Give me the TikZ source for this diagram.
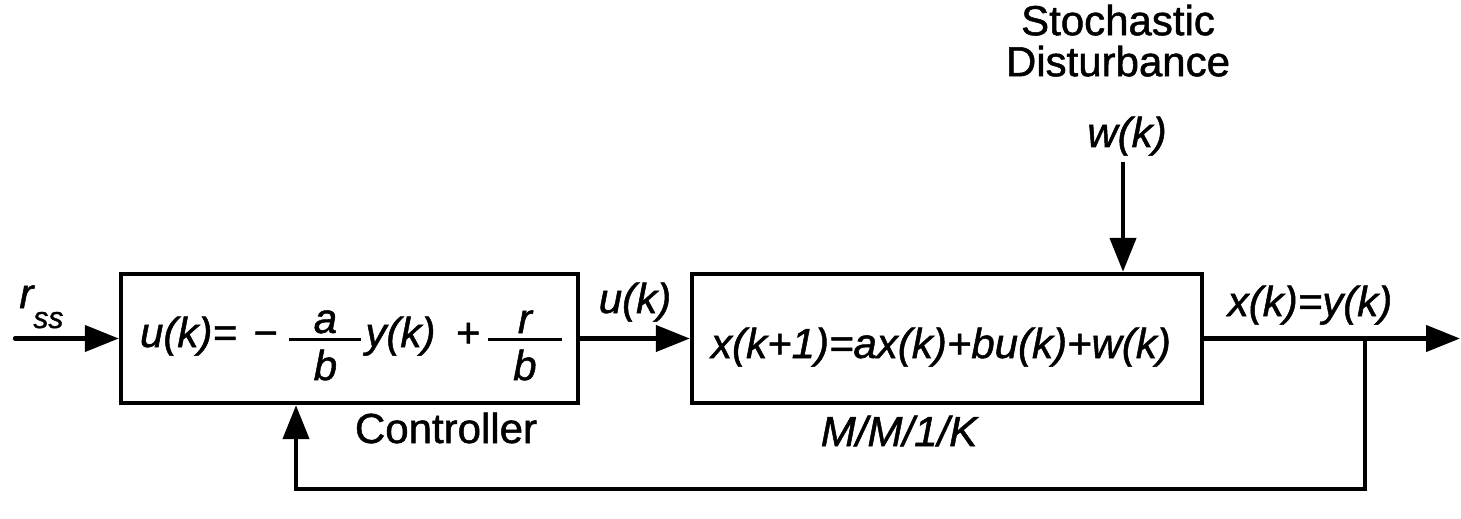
\documentclass[tikz,border=0pt]{standalone}
\usepackage{fontspec}
\setmainfont{Liberation Sans}[FakeBold=1.2]
\usetikzlibrary{arrows.meta}
\newcommand\fracbox[3][36pt]{\leavevmode\rlap{\makebox[#1]{\raisebox{7pt}{#2}}}\rlap{\makebox[#1]{\raisebox{-16.5pt}{#3}}}\rule[3pt]{#1}{1.5pt}}
\begin{document}
\begin{tikzpicture}[x=0.5pt,y=-0.5pt,
  blk/.style={draw,line width=2.2pt,inner sep=0pt,minimum height=64.5pt},
  lbl/.style={font=\fontsize{21}{20.5}\selectfont,inner sep=0pt,anchor=base},
  ilbl/.style={lbl,font=\fontsize{21}{20.5}\selectfont\itshape},
  conn/.style={line width=2.2pt,-{Triangle[length=17pt,width=13pt]}}]
\useasboundingbox (0,0) rectangle (1461,519);

% blocks
\node[blk,minimum width=228.5pt] (ctrl) at (349.5,338.5) {};
\node[blk,minimum width=255pt] (plant) at (947,338.5) {};

% block contents
\node[ilbl] (ctrlf) at (351,347) {u(k)=\hspace{8pt}−\hspace{6pt}\fracbox{a}{b}\hspace{2pt}y(k)\hspace{10pt}+\hspace{4pt}\fracbox[37pt]{r}{b}};
\node[ilbl] (plantf) at (941,358) {x(k+1)=ax(k)+bu(k)+w(k)};

% labels
\node[ilbl,anchor=base west] (rss) at (19,308) {r\raisebox{-10pt}{\fontsize{15}{17}\selectfont ss}};
\node[ilbl] (uk) at (635,313) {u(k)};
\node[ilbl] (xy) at (1310,316) {x(k)=y(k)};
\node[ilbl] (wk) at (1127,147) {w(k)};
\node[lbl,align=center,anchor=south] (dist) at (1118,77) {Stochastic\\Disturbance};
\node[lbl] (ctrlname) at (446,443) {Controller};
\node[ilbl] (plantname) at (899,446) {M/M/1/K};

% connectors
\coordinate (in) at (15,338.5);
\coordinate (wtop) at (1123,162);
\coordinate (out) at (1460,338.5);
\coordinate (br) at (1365,338.5);
\coordinate (fb) at (296,489);

\draw[conn,line cap=round] (in) -- (ctrl.west);
\draw[conn] (ctrl.east) -- (plant.west);
\draw[conn] (wtop) -- (wtop |- plant.north);
\draw[conn] (plant.east) -- (out);
\draw[conn] (br) -- (br |- fb) -- (fb) -- (fb |- ctrl.south);
\end{tikzpicture}
\end{document}
